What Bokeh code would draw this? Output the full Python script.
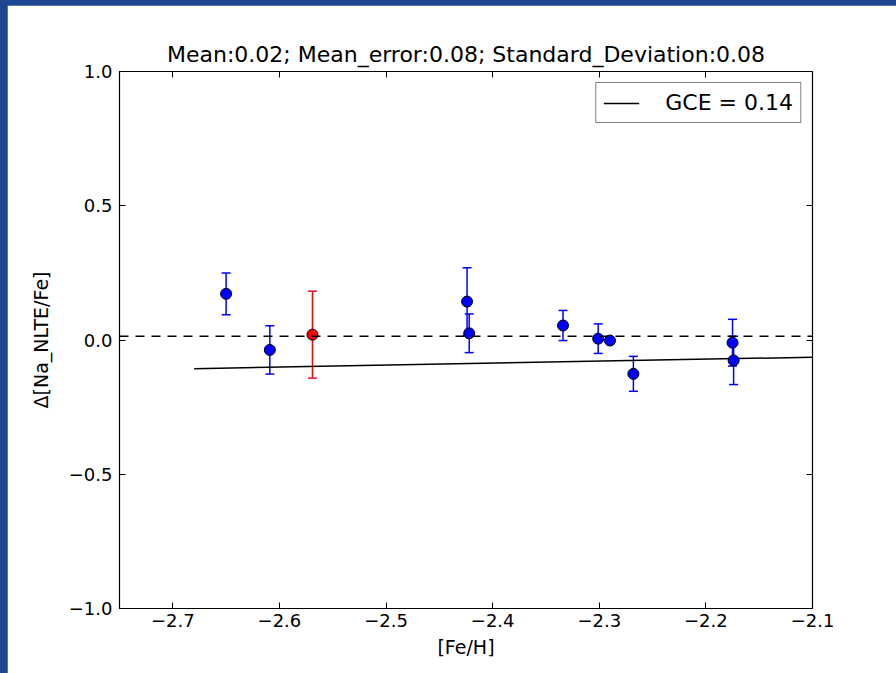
from bokeh.plotting import figure
from bokeh.models import (ColumnDataSource, Whisker, TeeHead, FixedTicker,
                          CustomJSTickFormatter, LinearAxis, Legend, LegendItem, Range1d, Span)
from bokeh.layouts import column
from bokeh.embed import file_html
from bokeh.resources import INLINE

# ---- data ----
feh = [-2.650, -2.609, -2.424, -2.422, -2.334, -2.301, -2.290, -2.268, -2.175, -2.174]
delta = [0.172, -0.037, 0.143, 0.025, 0.054, 0.005, -0.002, -0.126, -0.010, -0.076]
err = [0.078, 0.090, 0.126, 0.072, 0.056, 0.055, 0.0, 0.065, 0.087, 0.090]

red_feh = [-2.569]
red_delta = [0.020]
red_err = [0.162]

mean_level = 0.014
gce_x = [-2.68, -2.10]
gce_y = [-0.107, -0.064]

title_text = "Mean:0.02; Mean_error:0.08; Standard_Deviation:0.08"
xticks = [-2.7, -2.6, -2.5, -2.4, -2.3, -2.2, -2.1]
yticks = [-1.0, -0.5, 0.0, 0.5, 1.0]

FONT = "DejaVu Sans"

src = ColumnDataSource(dict(x=feh, y=delta,
                            lo=[d - e for d, e in zip(delta, err)],
                            hi=[d + e for d, e in zip(delta, err)]))
rsrc = ColumnDataSource(dict(x=red_feh, y=red_delta,
                             lo=[d - e for d, e in zip(red_delta, red_err)],
                             hi=[d + e for d, e in zip(red_delta, red_err)]))

p = figure(frame_width=693, frame_height=537,
           min_border_left=112, min_border_right=84, min_border_top=66, min_border_bottom=65,
           x_range=Range1d(-2.75, -2.1), y_range=Range1d(-1.0, 1.0),
           output_backend="svg", toolbar_location=None, tools="",
           x_axis_location=None, y_axis_location=None)

p.background_fill_color = "white"
p.border_fill_color = "white"
p.outline_line_color = "black"
p.outline_line_width = 1.2
p.xgrid.visible = False
p.ygrid.visible = False

fmt = CustomJSTickFormatter(code="return tick.toFixed(1).replace('-', '\u2212');")
blank = CustomJSTickFormatter(code="return '';")

def style_axis(ax):
    ax.major_tick_in = 6
    ax.major_tick_out = 0
    ax.minor_tick_in = 0
    ax.minor_tick_out = 0
    ax.axis_line_color = "black"
    ax.major_tick_line_color = "black"
    ax.major_label_text_font = FONT
    ax.major_label_text_font_size = "18px"
    ax.major_label_text_color = "black"
    ax.axis_label_text_font = FONT
    ax.axis_label_text_font_size = "19px"
    ax.axis_label_text_font_style = "normal"
    ax.axis_label_text_color = "black"

xb = LinearAxis(ticker=FixedTicker(ticks=xticks), formatter=fmt, axis_label="[Fe/H]")
style_axis(xb)
xb.major_label_standoff = 5
xb.axis_label_standoff = 6
p.add_layout(xb, "below")

xt = LinearAxis(ticker=FixedTicker(ticks=xticks), formatter=blank)
style_axis(xt)
xt.major_label_standoff = 0
p.add_layout(xt, "above")

yl = LinearAxis(ticker=FixedTicker(ticks=yticks), formatter=fmt, axis_label="Δ[Na_NLTE/Fe]")
style_axis(yl)
yl.major_label_standoff = 7
yl.axis_label_standoff = 14
p.add_layout(yl, "left")

yr = LinearAxis(ticker=FixedTicker(ticks=yticks), formatter=blank)
style_axis(yr)
yr.major_label_standoff = 0
p.add_layout(yr, "right")

p.title.text = title_text
p.title.align = "center"
p.title.text_font = FONT
p.title.text_font_size = "22px"
p.title.text_font_style = "normal"
p.title.text_color = "black"

# mean dashed line
p.add_layout(Span(location=mean_level, dimension="width", line_color="black",
                  line_dash="9 7", line_width=1.5))

# GCE line
gce = p.line(gce_x, gce_y, line_color="black", line_width=1.5)

# error bars
p.add_layout(Whisker(source=src, base="x", lower="lo", upper="hi",
                     line_color="#0000ff", line_width=1.5,
                     lower_head=TeeHead(size=9, line_color="#0000ff", line_width=1.5),
                     upper_head=TeeHead(size=9, line_color="#0000ff", line_width=1.5)))
p.add_layout(Whisker(source=rsrc, base="x", lower="lo", upper="hi",
                     line_color="#ff0000", line_width=1.5,
                     lower_head=TeeHead(size=9, line_color="#e0103a", line_width=1.5),
                     upper_head=TeeHead(size=9, line_color="#e0103a", line_width=1.5)))

p.scatter("x", "y", source=src, size=11, fill_color="#0000ff", line_color="black", line_width=1)
p.scatter("x", "y", source=rsrc, size=11, fill_color="#ff0000", line_color="black", line_width=1)

legend = Legend(items=[LegendItem(label="GCE = 0.14", renderers=[gce])],
                location="top_right")
legend.label_text_font = FONT
legend.label_text_font_size = "22px"
legend.label_text_color = "black"
legend.border_line_color = "black"
legend.border_line_width = 1.2
legend.glyph_width = 36
legend.label_standoff = 26
legend.padding = 7
legend.margin = 11
legend.spacing = 0
legend.label_height = 20
legend.glyph_height = 20
legend.background_fill_alpha = 1
p.add_layout(legend)

layout = column(p, styles={"background-color": "#1f4690", "padding": "5px 0px 0px 7px"})

open("out.html", "w").write(file_html(layout, INLINE))
